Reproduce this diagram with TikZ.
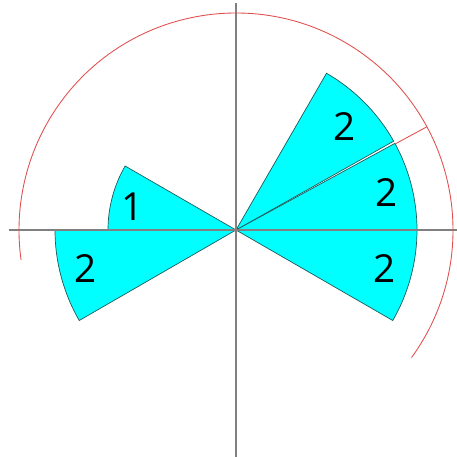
\documentclass[tikz,border=0pt]{standalone}
\usepackage{fontspec}
\setmainfont{Open Sans}
\definecolor{sectorfill}{RGB}{0,255,255}
\definecolor{sectorline}{RGB}{30,90,90}
\definecolor{guidered}{RGB}{225,80,80}
\begin{document}
\begin{tikzpicture}[x=0.02cm,y=0.02cm,
  sector/.style={fill=sectorfill,draw=sectorline,line width=0.4pt},
  axis/.style={draw=gray,line width=0.8pt},
  guide/.style={draw=guidered,line width=0.5pt},
  count/.style={font=\fontsize{22}{22}\selectfont}]
\useasboundingbox (-236,-227) rectangle (221,230);
% sectors
\draw[sector] (0,0) -- (29.4:181) arc[start angle=29.4,end angle=60,radius=181] -- cycle;
\draw[sector] (0,0) -- (0:181) arc[start angle=0,end angle=28.6,radius=181] -- cycle;
\draw[sector] (0,0) -- (-30:181) arc[start angle=-30,end angle=0,radius=181] -- cycle;
\draw[sector] (0,0) -- (150:128) arc[start angle=150,end angle=180,radius=128] -- cycle;
\draw[sector] (0,0) -- (180:181) arc[start angle=180,end angle=210,radius=181] -- cycle;
% axes
\draw[axis] (-227,0) -- (221,0);
\draw[axis] (0,227) -- (0,-227);
% red guide
\draw[guide] (-36:217) arc[start angle=-36,end angle=188,radius=217];
\draw[guide] (28.4:181) -- (28.4:217);
% counts
\node[count] (n1) at (109,103) {2};
\node[count] (n2) at (151,37) {2};
\node[count] (n3) at (149,-39) {2};
\node[count] (n4) at (-150,-39) {2};
\node[count] (n5) at (-103,23) {1};
\end{tikzpicture}
\end{document}
